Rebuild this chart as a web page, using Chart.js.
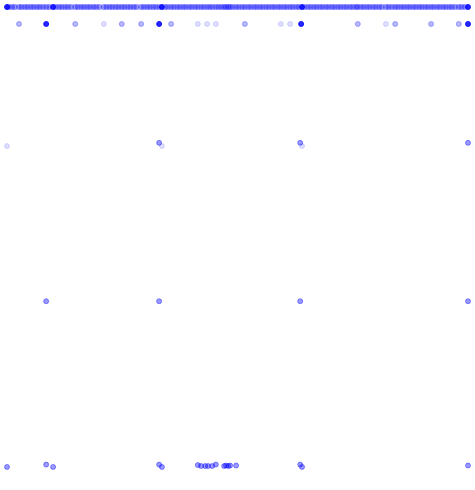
<!DOCTYPE html>
<html>
<head>
<meta charset="utf-8">
<style>html,body{margin:0;padding:0;background:#fff;}canvas{display:block;}</style>
<script src="https://cdn.jsdelivr.net/npm/chart.js@4.4.0/dist/chart.umd.min.js"></script>
</head>
<body>
<canvas id="c" width="475" height="490"></canvas>
<script>
// Row levels (y values)
const rowY = { top: 100, second: 96.3, thirdUpper: 70.4, thirdLower: 69.7, fourth: 35.9, bottom: 0 };

// Top row (dense band)
const topX = [0.4,1.1,1.7,2.6,3.2,3.9,4.5,5.2,5.8,6.5,7.1,7.8,8.5,9.2,10.6,11.3,11.9,12.6,13.2,13.9,14.8,15.4,16.1,16.7,17.4,18.0,18.7,19.3,20.0,21.0,21.6,22.3,22.9,23.6,24.2,24.9,25.5,26.2,26.8,27.5,28.1,29.1,29.7,30.4,31.0,31.7,32.3,33.0,34.3,34.9,35.6,36.2,36.9,37.5,38.2,38.8,39.5,40.1,40.8,41.4,42.1,42.7,43.4,44.0,44.6,45.3,45.9,46.5,47.1,47.5,48.0,48.4,49.0,49.7,50.3,51.0,51.6,52.3,52.9,53.6,54.2,54.9,55.5,56.2,56.8,57.5,58.1,58.8,59.4,60.1,60.7,61.4,62.0,62.7,63.3,64.6,65.3,65.9,66.6,67.2,67.9,68.5,69.2,69.8,70.5,71.1,71.8,72.4,73.1,73.7,74.4,75.0,75.7,76.1,76.8,77.4,78.1,78.7,79.4,80.0,80.7,81.3,82.2,82.8,83.5,84.2,84.8,85.5,86.1,86.8,87.4,88.1,88.7,89.4,90.0,90.7,91.3,92.0,92.6,93.3,93.9,94.6,95.2,95.9,96.5,97.2,98.0,98.6,99.3];
const topDarkX = [0, 10.0, 33.6, 64.0, 100];

// Second row
const secondX = [2.6, 14.8, 24.9, 29.1, 35.6, 51.6, 76.1, 84.2, 92.0, 98.0];
const secondLightX = [21.0, 41.4, 43.4, 45.3, 59.4, 61.4, 82.2];
const secondDarkX = [8.5, 33.0, 63.8, 100];

// Third row
const thirdUpperX = [33.0, 63.6, 100];
const thirdLowerX = [0, 33.6, 64.0];

// Fourth row
const fourthX = [8.5, 33.0, 63.6, 100];

// Bottom row
const bottomX = [0, 8.5, 10.0, 33.0, 33.6, 41.4, 42.1, 43.0, 43.6, 44.5, 45.3, 47.1, 47.5, 48.0, 48.4, 49.7, 63.6, 64.0, 100];
const bottomY = [-0.2, 0.3, -0.2, 0.3, -0.2, 0.2, 0, 0, 0, 0, 0.3, 0, 0.1, 0, 0.1, 0.1, 0.3, -0.2, 0.1];

function pts(xs, y) { return xs.map(x => ({ x: x, y: y })); }

const light = 'rgba(0,0,255,0.13)';
const medium = 'rgba(0,0,255,0.28)';
const strong = 'rgba(0,0,255,0.40)';
const dark = 'rgba(0,0,255,0.85)';

function ds(data, color, opts) {
  return Object.assign({ data: data, backgroundColor: color, borderColor: color, borderWidth: 1, pointRadius: 2.5, pointHoverRadius: 2.5, clip: false }, opts || {});
}

new Chart(document.getElementById('c'), {
  type: 'scatter',
  data: {
    datasets: [
      ds(pts(topX, rowY.top), 'rgba(0,0,255,0.42)', { borderWidth: 0, pointRadius: 3, pointHoverRadius: 3 }),
      ds(pts(topDarkX, rowY.top), dark),
      ds(pts(secondLightX, rowY.second), light),
      ds(pts(secondX, rowY.second), medium),
      ds(pts(secondDarkX, rowY.second), dark),
      ds(pts(thirdLowerX, rowY.thirdLower), light),
      ds(pts(thirdUpperX, rowY.thirdUpper), strong),
      ds(pts(fourthX, rowY.fourth), strong),
      ds(bottomX.map((x, i) => ({ x: x, y: bottomY[i] })), strong)
    ]
  },
  options: {
    responsive: false,
    animation: false,
    layout: { padding: { left: 7, right: 7, top: 7, bottom: 24 } },
    plugins: { legend: { display: false }, tooltip: { enabled: false } },
    scales: {
      x: { type: 'linear', min: 0, max: 100, display: false },
      y: { type: 'linear', min: 0, max: 100, display: false }
    }
  }
});
</script>
</body>
</html>
